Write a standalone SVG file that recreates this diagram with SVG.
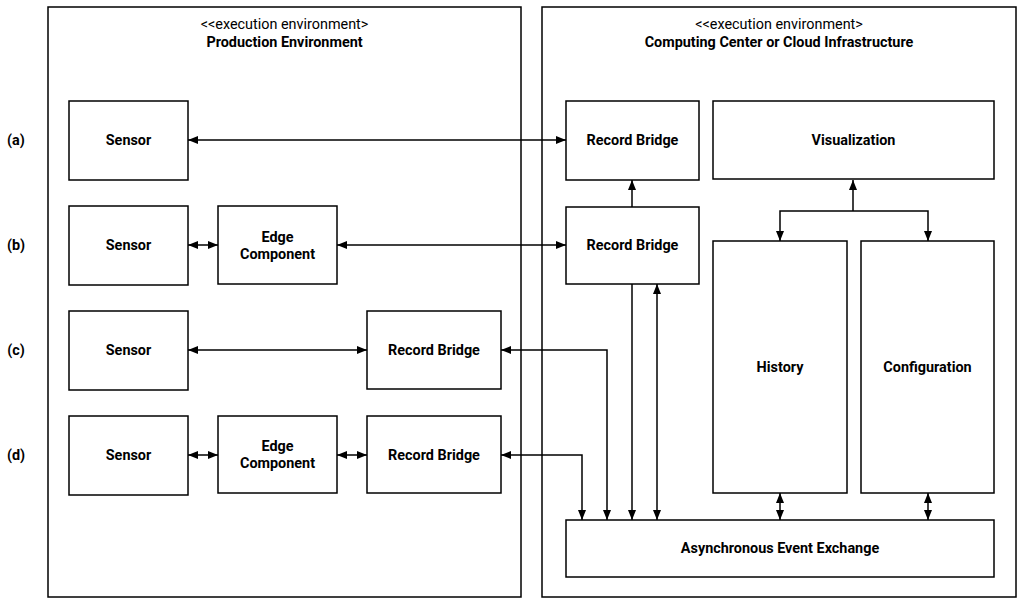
<svg xmlns="http://www.w3.org/2000/svg" width="1023" height="606" viewBox="0 0 1023 606">
<style>
.box{fill:#fff;stroke:#000;stroke-width:1.5}
.cont{fill:#fff;stroke:#000;stroke-width:1.5}
.lbl{font-family:Roboto,"Liberation Sans",sans-serif;font-size:14.4px;font-weight:bold;text-anchor:middle;dominant-baseline:central;fill:#000}
.st{font-family:Roboto,"Liberation Sans",sans-serif;font-size:14.4px;text-anchor:middle;fill:#000}
.ttl{font-family:Roboto,"Liberation Sans",sans-serif;font-size:14.4px;font-weight:bold;text-anchor:middle;fill:#000}
.c{fill:none;stroke:#000;stroke-width:1.5}
.ce{marker-end:url(#ah)}
.cb{marker-end:url(#ah);marker-start:url(#ahs)}
</style>
<defs>
<marker id="ah" markerUnits="userSpaceOnUse" markerWidth="10" markerHeight="10" viewBox="0 0 10 10" refX="10" refY="5" orient="auto"><path d="M0,1 L10,5 L0,9 z" fill="#000"/></marker>
<marker id="ahs" markerUnits="userSpaceOnUse" markerWidth="10" markerHeight="10" viewBox="0 0 10 10" refX="0" refY="5" orient="auto"><path d="M10,1 L0,5 L10,9 z" fill="#000"/></marker>
</defs>
<rect width="1023" height="606" fill="#fff"/>
<g id="prod-env">
<rect class="cont" x="48" y="7" width="473" height="590"/>
<text class="st" x="284.5" y="28.5">&lt;&lt;execution environment&gt;</text>
<text class="ttl" x="284.5" y="46.5">Production Environment</text>
</g>
<g id="cloud-env">
<rect class="cont" x="542" y="7" width="474" height="590"/>
<text class="st" x="779" y="28.5">&lt;&lt;execution environment&gt;</text>
<text class="ttl" x="779" y="46.5">Computing Center or Cloud Infrastructure</text>
</g>
<g id="row-labels">
<text class="lbl" x="16" y="140">(a)</text>
<text class="lbl" x="16" y="245">(b)</text>
<text class="lbl" x="16" y="350">(c)</text>
<text class="lbl" x="16" y="455">(d)</text>
</g>
<g id="sensor-a"><rect class="box" x="69" y="101" width="119" height="79"/><text class="lbl" x="128.5" y="140.5">Sensor</text></g>
<g id="sensor-b"><rect class="box" x="69" y="206" width="119" height="79"/><text class="lbl" x="128.5" y="245.5">Sensor</text></g>
<g id="edge-b"><rect class="box" x="218" y="206" width="119" height="78"/><text class="lbl" x="277.5" y="237">Edge</text><text class="lbl" x="277.5" y="254">Component</text></g>
<g id="sensor-c"><rect class="box" x="69" y="311" width="119" height="79"/><text class="lbl" x="128.5" y="350.5">Sensor</text></g>
<g id="rb-c"><rect class="box" x="367" y="311" width="134" height="78"/><text class="lbl" x="434" y="350">Record Bridge</text></g>
<g id="sensor-d"><rect class="box" x="69" y="416" width="119" height="79"/><text class="lbl" x="128.5" y="455.5">Sensor</text></g>
<g id="edge-d"><rect class="box" x="218" y="416" width="119" height="77"/><text class="lbl" x="277.5" y="446">Edge</text><text class="lbl" x="277.5" y="463">Component</text></g>
<g id="rb-d"><rect class="box" x="367" y="416" width="134" height="77"/><text class="lbl" x="434" y="455">Record Bridge</text></g>
<g id="rb-a"><rect class="box" x="566" y="101" width="133" height="79"/><text class="lbl" x="632.5" y="140.5">Record Bridge</text></g>
<g id="visualization"><rect class="box" x="713" y="101" width="281" height="78"/><text class="lbl" x="853.5" y="140">Visualization</text></g>
<g id="rb-b"><rect class="box" x="566" y="207" width="133" height="77"/><text class="lbl" x="632.5" y="245.5">Record Bridge</text></g>
<g id="history"><rect class="box" x="713" y="241" width="134" height="252"/><text class="lbl" x="780" y="367">History</text></g>
<g id="configuration"><rect class="box" x="861" y="241" width="133" height="252"/><text class="lbl" x="927.5" y="367">Configuration</text></g>
<g id="async"><rect class="box" x="566" y="520" width="428" height="57"/><text class="lbl" x="780" y="548.5">Asynchronous Event Exchange</text></g>
<g id="connectors">
<path class="c cb" d="M188,140 H566"/>
<path class="c cb" d="M188,245 H218"/>
<path class="c cb" d="M337,245 H566"/>
<path class="c cb" d="M188,350 H367"/>
<path class="c cb" d="M188,455 H218"/>
<path class="c cb" d="M337,455 H367"/>
<path class="c cb" d="M501,350 H607 V520"/>
<path class="c cb" d="M501,455 H582 V520"/>
<path class="c ce" d="M632,284 V520"/>
<path class="c cb" d="M657,520 V284"/>
<path class="c ce" d="M632,207 V180"/>
<path class="c ce" d="M853,211 V180"/>
<path class="c ce" d="M853,211 H780 V241"/>
<path class="c ce" d="M853,211 H928 V241"/>
<path class="c cb" d="M780,493 V520"/>
<path class="c cb" d="M928,493 V520"/>
</g>
</svg>
